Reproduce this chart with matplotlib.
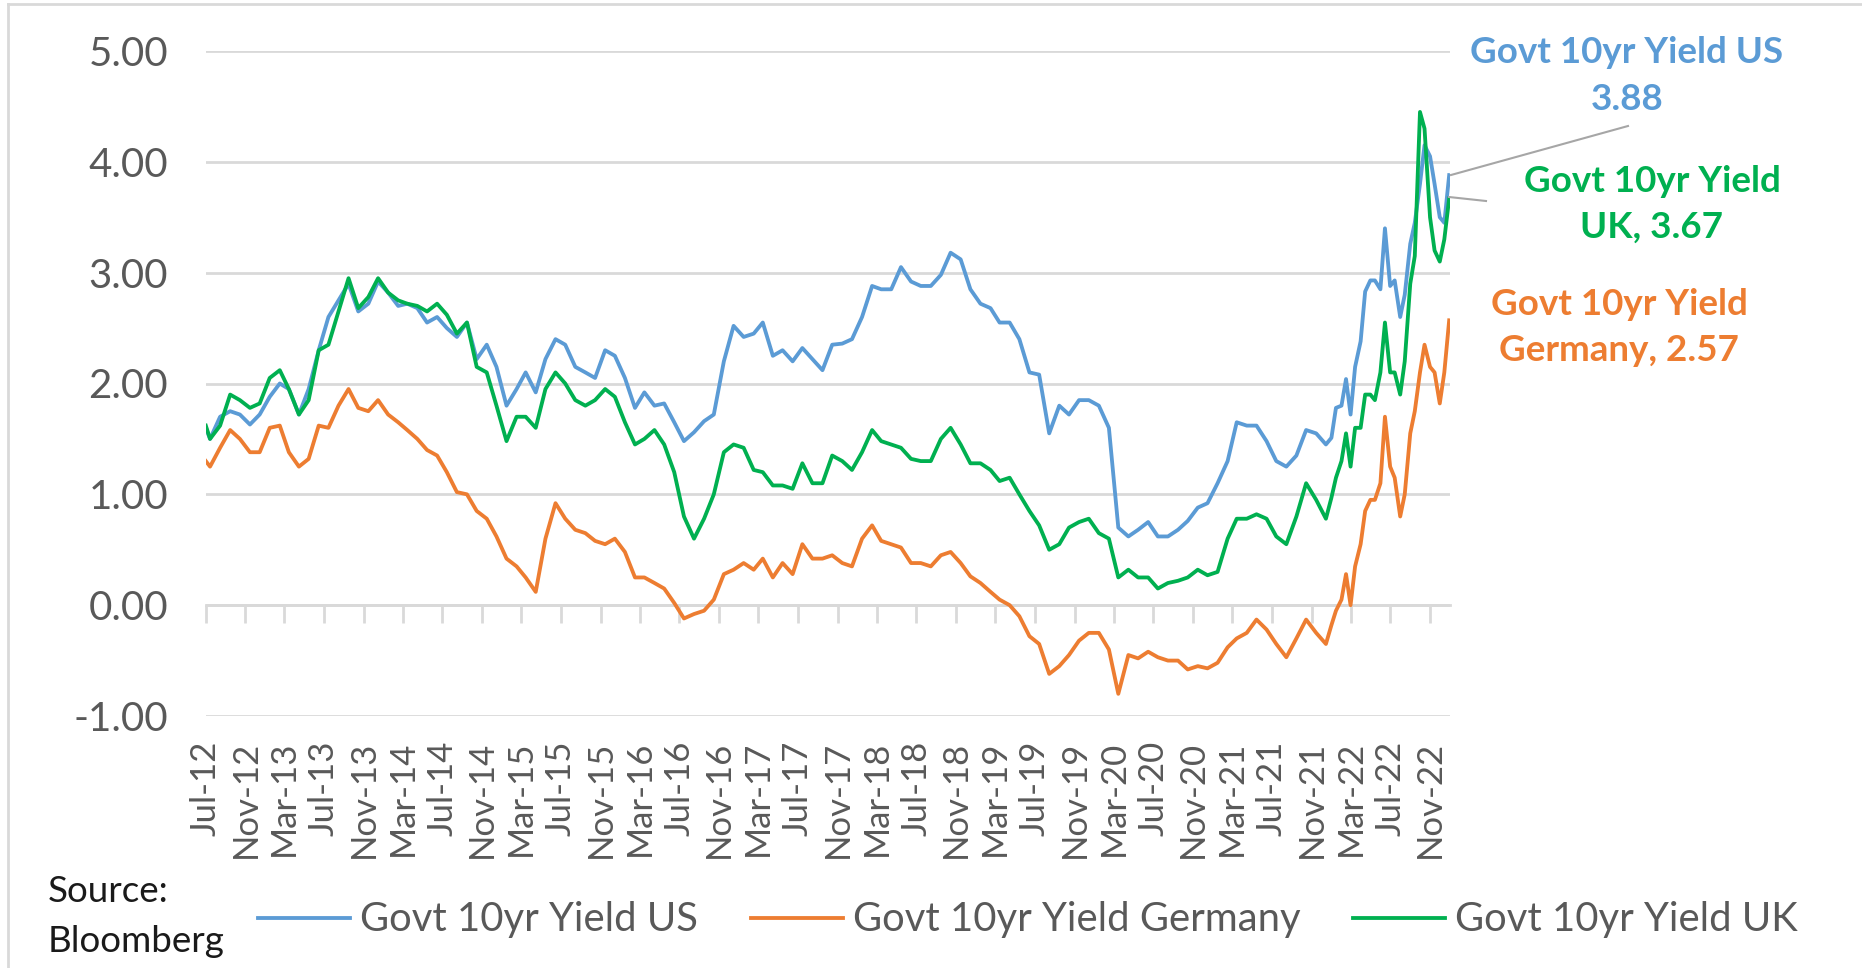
import matplotlib
matplotlib.use('Agg')
import matplotlib.pyplot as plt
import matplotlib.dates as mdates
from matplotlib.lines import Line2D
import pandas as pd

plt.rcParams['font.family'] = ['Lato', 'DejaVu Sans']

# ---------------- data ----------------
series_names = ["Govt 10yr Yield US", "Govt 10yr Yield Germany", "Govt 10yr Yield UK"]

start_date = "2012-07-02"
end_date = "2022-12-30"
# monthly readings (mid-month) Jul-2012 .. Dec-2021
monthly_dates = pd.date_range("2012-07-01", "2021-12-01", freq="MS") + pd.Timedelta(days=14)
# semi-monthly readings for 2022
semi_dates_2022 = pd.date_range("2022-01-01", "2022-12-15", freq="SMS")

us_start = 1.60
us_monthly = [
    1.50, 1.70, 1.75, 1.72, 1.63, 1.72,
    1.88, 2.00, 1.95, 1.72, 1.95, 2.30, 2.60, 2.75, 2.90, 2.65, 2.72, 2.92,
    2.82, 2.70, 2.72, 2.68, 2.55, 2.60, 2.50, 2.42, 2.55, 2.22, 2.35, 2.15,
    1.80, 1.95, 2.10, 1.92, 2.22, 2.40, 2.35, 2.15, 2.10, 2.05, 2.30, 2.25,
    2.05, 1.78, 1.92, 1.80, 1.82, 1.65, 1.48, 1.56, 1.66, 1.72, 2.20, 2.52,
    2.42, 2.45, 2.55, 2.25, 2.30, 2.20, 2.32, 2.22, 2.12, 2.35, 2.36, 2.40,
    2.60, 2.88, 2.85, 2.85, 3.05, 2.92, 2.88, 2.88, 2.98, 3.18, 3.12, 2.85,
    2.72, 2.68, 2.55, 2.55, 2.40, 2.10, 2.08, 1.55, 1.80, 1.72, 1.85, 1.85,
    1.80, 1.60, 0.70, 0.62, 0.68, 0.75, 0.62, 0.62, 0.68, 0.76, 0.88, 0.92,
    1.10, 1.30, 1.65, 1.62, 1.62, 1.48, 1.30, 1.25, 1.35, 1.58, 1.55, 1.45,
]
us_2022 = [1.51, 1.78, 1.80, 2.04, 1.72, 2.15, 2.38, 2.83, 2.93, 2.93, 2.85, 3.40,
           2.88, 2.93, 2.60, 2.80, 3.26, 3.45, 3.80, 4.15, 4.05, 3.80, 3.50, 3.45]
us_end = 3.88

de_start = 1.30
de_monthly = [
    1.25, 1.42, 1.58, 1.50, 1.38, 1.38,
    1.60, 1.62, 1.38, 1.25, 1.32, 1.62, 1.60, 1.80, 1.95, 1.78, 1.75, 1.85,
    1.72, 1.65, 1.58, 1.50, 1.40, 1.35, 1.20, 1.02, 1.00, 0.85, 0.78, 0.62,
    0.42, 0.35, 0.25, 0.12, 0.60, 0.92, 0.78, 0.68, 0.65, 0.58, 0.55, 0.60,
    0.48, 0.25, 0.25, 0.20, 0.15, 0.02, -0.12, -0.08, -0.05, 0.05, 0.28, 0.32,
    0.38, 0.32, 0.42, 0.25, 0.38, 0.28, 0.55, 0.42, 0.42, 0.45, 0.38, 0.35,
    0.60, 0.72, 0.58, 0.55, 0.52, 0.38, 0.38, 0.35, 0.45, 0.48, 0.38, 0.26,
    0.20, 0.12, 0.05, 0.00, -0.10, -0.28, -0.35, -0.62, -0.55, -0.45, -0.32, -0.25,
    -0.25, -0.40, -0.80, -0.45, -0.48, -0.42, -0.47, -0.50, -0.50, -0.58, -0.55, -0.57,
    -0.52, -0.38, -0.30, -0.25, -0.13, -0.22, -0.35, -0.47, -0.30, -0.13, -0.25, -0.35,
]
de_2022 = [-0.18, -0.05, 0.05, 0.28, 0.00, 0.35, 0.55, 0.85, 0.95, 0.95, 1.10, 1.70,
           1.25, 1.15, 0.80, 1.00, 1.55, 1.75, 2.10, 2.35, 2.15, 2.10, 1.82, 2.10]
de_end = 2.57

uk_start = 1.62
uk_monthly = [
    1.50, 1.62, 1.90, 1.85, 1.78, 1.82,
    2.05, 2.12, 1.95, 1.72, 1.85, 2.30, 2.35, 2.65, 2.95, 2.68, 2.78, 2.95,
    2.82, 2.75, 2.72, 2.70, 2.65, 2.72, 2.62, 2.45, 2.55, 2.15, 2.10, 1.80,
    1.48, 1.70, 1.70, 1.60, 1.95, 2.10, 2.00, 1.85, 1.80, 1.85, 1.95, 1.88,
    1.65, 1.45, 1.50, 1.58, 1.45, 1.20, 0.80, 0.60, 0.78, 1.00, 1.38, 1.45,
    1.42, 1.22, 1.20, 1.08, 1.08, 1.05, 1.28, 1.10, 1.10, 1.35, 1.30, 1.22,
    1.38, 1.58, 1.48, 1.45, 1.42, 1.32, 1.30, 1.30, 1.50, 1.60, 1.45, 1.28,
    1.28, 1.22, 1.12, 1.15, 1.00, 0.85, 0.72, 0.50, 0.55, 0.70, 0.75, 0.78,
    0.65, 0.60, 0.25, 0.32, 0.25, 0.25, 0.15, 0.20, 0.22, 0.25, 0.32, 0.27,
    0.30, 0.60, 0.78, 0.78, 0.82, 0.78, 0.62, 0.55, 0.80, 1.10, 0.95, 0.78,
]
uk_2022 = [0.97, 1.15, 1.30, 1.55, 1.25, 1.60, 1.60, 1.90, 1.90, 1.85, 2.10, 2.55,
           2.10, 2.10, 1.90, 2.20, 2.90, 3.15, 4.45, 4.30, 3.50, 3.20, 3.10, 3.30]
uk_end = 3.67

tick_dates = pd.date_range("2012-07-01", "2022-11-01", freq="4MS")
tick_labels = [d.strftime("%b-%y") for d in tick_dates]
y_ticks = [-1, 0, 1, 2, 3, 4, 5]

# ---------------- assemble ----------------
all_dates = [pd.Timestamp(start_date)] + list(monthly_dates) + list(semi_dates_2022) + [pd.Timestamp(end_date)]
x = mdates.date2num(all_dates)
us = [us_start] + us_monthly + us_2022 + [us_end]
de = [de_start] + de_monthly + de_2022 + [de_end]
uk = [uk_start] + uk_monthly + uk_2022 + [uk_end]

C_US, C_DE, C_UK = "#5B9BD5", "#ED7D31", "#00B050"
GRID = "#D9D9D9"
TXT = "#595959"

W, H = 1862, 968
fig = plt.figure(figsize=(W / 100, H / 100), dpi=100)
fig.patch.set_facecolor("white")

ax_l, ax_r, ax_t, ax_b = 205.5, 1449.5, 51, 716
ax = fig.add_axes([ax_l / W, 1 - ax_b / H, (ax_r - ax_l) / W, (ax_b - ax_t) / H])

lw = 2.75
ax.plot(x, us, color=C_US, lw=lw, solid_joinstyle="round", zorder=3)
ax.plot(x, de, color=C_DE, lw=lw, solid_joinstyle="round", zorder=3)
ax.plot(x, uk, color=C_UK, lw=lw, solid_joinstyle="round", zorder=3)

ax.set_xlim(mdates.date2num(pd.Timestamp("2012-07-01")), mdates.date2num(pd.Timestamp("2022-12-31")))
ax.set_ylim(-1, 5)
ax.set_yticks(y_ticks)
ax.set_yticklabels([f"{v:.2f}" for v in y_ticks])
ax.yaxis.grid(True, color=GRID, lw=2)
ax.set_axisbelow(True)
for s in ["top", "right", "left"]:
    ax.spines[s].set_visible(False)
ax.spines["bottom"].set_position(("data", 0))
ax.spines["bottom"].set_color(GRID)
ax.spines["bottom"].set_linewidth(2)
ax.tick_params(axis="y", length=0, pad=27, labelsize=29, labelcolor=TXT)

tick_num = mdates.date2num(tick_dates)
ax.set_xticks(tick_num)
ax.tick_params(axis="x", direction="out", length=13, width=2, color=GRID, labelbottom=False)

sec = ax.secondary_xaxis(0)
sec.set_xticks(tick_num)
sec.set_xticklabels(tick_labels)
sec.tick_params(axis="x", length=0, pad=18, labelsize=25, labelcolor=TXT, labelrotation=90)
sec.spines["bottom"].set_visible(False)

# legend
handles = [Line2D([], [], color=c, lw=lw) for c in (C_US, C_DE, C_UK)]
leg_fs = 28.8
leg = fig.legend(handles, series_names, loc="center", bbox_to_anchor=(1028 / W, 1 - 920 / H),
                 ncol=3, frameon=False, fontsize=leg_fs, handlelength=92 / (leg_fs * 1.389),
                 handletextpad=10 / (leg_fs * 1.389), columnspacing=53 / (leg_fs * 1.389),
                 borderaxespad=0)
for t in leg.get_texts():
    t.set_color(TXT)

# source
fig.text(48 / W, 1 - 891 / H, "Source:", fontsize=26.5, color="#1a1a1a", va="center", ha="left")
fig.text(48 / W, 1 - 942 / H, "Bloomberg", fontsize=26.5, color="#1a1a1a", va="center", ha="left")

# data labels
def ftxt(px, py, s, c):
    fig.text(px / W, 1 - py / H, s, fontsize=26.5, fontweight="bold", color=c, ha="center", va="baseline")

ftxt(1627, 63, "Govt 10yr Yield US", C_US)
ftxt(1627, 110, f"{us_end:.2f}", C_US)
ftxt(1652, 192, "Govt 10yr Yield", C_UK)
ftxt(1652, 238, f"UK, {uk_end:.2f}", C_UK)
ftxt(1619, 315, "Govt 10yr Yield", C_DE)
ftxt(1619, 361, f"Germany, {de_end:.2f}", C_DE)

# leader lines
fig.add_artist(Line2D([1451 / W, 1628 / W], [1 - 175 / H, 1 - 126 / H], color="#A6A6A6", lw=1.5))
fig.add_artist(Line2D([1449 / W, 1486 / W], [1 - 197 / H, 1 - 201 / H], color="#A6A6A6", lw=1.5))

# chart area border
fig.add_artist(Line2D([8 / W, 1.0], [1 - 4 / H, 1 - 4 / H], color=GRID, lw=2))
fig.add_artist(Line2D([8 / W, 8 / W], [0, 1 - 4 / H], color=GRID, lw=2))

fig.savefig("out.png", dpi=100)
